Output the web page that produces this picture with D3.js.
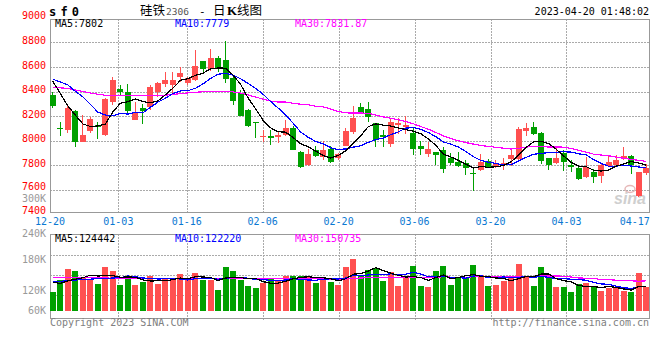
<!DOCTYPE html>
<html><head><meta charset="utf-8">
<script src="https://cdn.jsdelivr.net/npm/d3@7"></script>
<style>
html,body{margin:0;padding:0;background:#fff;}
svg{display:block;}
text{font-family:"DejaVu Sans Mono",monospace;font-size:10px;}
</style></head><body>
<svg id="c" width="660" height="360"></svg>
<script>
// ---------- data ----------
const dates = ["12-20","12-21","12-22","12-23","12-26","12-27","12-28","12-29","12-30",
 "01-03","01-04","01-05","01-06","01-09","01-10","01-11","01-12","01-13","01-16","01-17","01-18","01-19","01-20","01-30","01-31",
 "02-01","02-02","02-03","02-06","02-07","02-08","02-09","02-10","02-13","02-14","02-15","02-16","02-17","02-20","02-21","02-22","02-23","02-24","02-27","02-28",
 "03-01","03-02","03-03","03-06","03-07","03-08","03-09","03-10","03-13","03-14","03-15","03-16","03-17","03-20","03-21","03-22","03-23","03-24","03-27","03-28","03-29","03-30","03-31",
 "04-03","04-04","04-06","04-07","04-10","04-11","04-12","04-13","04-14","04-17","04-18","04-19"];
const openP = [8368,8105,8089,8243,7994,8076,8127,8048,8311,8424,8400,8170,8265,8273,8400,8462,8454,8522,8473,8495,
 8649,8581,8670,8657,8514,8386,8251,8154,8030,8035,8030,8046,8100,7905,7800,7927,7867,7935,7857,7959,
 8068,8276,8257,8141,8046,7973,8127,8114,8065,7957,7889,7911,7924,7862,7830,7822,7741,7762,7838,7795,
 7803,7849,7849,8081,8114,8065,7857,7816,7897,7803,7776,7703,7749,7714,7795,7803,7851,7876,7551,7741];
const highP = [8400,8154,8300,8246,8211,8192,8154,8349,8522,8454,8462,8311,8300,8454,8481,8562,8562,8600,8522,8738,
 8652,8743,8689,8811,8535,8413,8259,8154,8089,8089,8076,8170,8116,7913,7935,7959,8000,7959,7900,8100,
 8281,8303,8316,8146,8086,8189,8181,8200,8114,8000,7986,7911,7951,7903,7911,7843,7789,7889,7849,7843,
 7857,7924,8108,8141,8149,8073,7857,7938,7924,7843,7795,7865,7768,7811,7884,7884,7946,7884,7749,7811];
const lowP = [8265,8040,8062,7949,7986,8062,8013,8040,8292,8368,8219,8165,8138,8251,8359,8440,8386,8481,8454,8489,
 8549,8570,8562,8468,8292,8203,8111,8019,7986,7967,7981,8040,7921,7778,7792,7867,7846,7819,7846,7954,
 8059,8216,8149,7951,7951,7946,8059,8059,7884,7884,7870,7803,7741,7803,7784,7722,7595,7757,7784,7776,
 7762,7795,7843,8038,8046,7811,7762,7811,7757,7749,7681,7697,7659,7659,7784,7795,7843,7730,7546,7722];
const closeP = [8284,8092,8268,7994,8048,8178,8111,8343,8495,8400,8238,8224,8238,8440,8473,8495,8495,8554,8508,8608,
 8581,8670,8589,8503,8327,8205,8116,8143,8040,8019,8046,8100,7927,7786,7894,7873,7921,7824,7894,8076,
 8186,8222,8195,8005,8027,8149,8146,8130,7932,7932,7932,7884,7770,7822,7795,7776,7730,7830,7789,7822,
 7822,7884,8092,8105,8054,7838,7803,7862,7830,7789,7686,7789,7703,7803,7830,7843,7876,7803,7743,7776];
const ma5 = [8484,8386,8284,8208,8137,8116,8120,8135,8235,8305,8317,8340,8319,8308,8323,8374,8428,8491,8505,8532,
 8549,8584,8591,8590,8534,8459,8348,8259,8166,8105,8073,8070,8026,7976,7951,7916,7880,7860,7881,7918,
 7980,8040,8115,8137,8127,8120,8104,8091,8077,8058,8014,7962,7890,7868,7841,7809,7779,7791,7784,7789,
 7799,7829,7882,7945,7991,7995,7978,7932,7877,7824,7794,7791,7759,7754,7762,7794,7811,7831,7819,7802];
const ma10 = [8500,8478,8454,8402,8358,8297,8233,8209,8203,8221,8217,8230,8227,8272,8314,8346,8384,8405,8407,8427,
 8462,8506,8541,8548,8533,8504,8466,8425,8378,8319,8266,8209,8143,8071,8028,7994,7975,7943,7928,7934,
 7948,7960,7987,8009,8022,8050,8072,8103,8107,8092,8067,8033,7991,7972,7949,7912,7870,7840,7826,7815,
 7804,7804,7836,7865,7890,7897,7904,7907,7911,7908,7894,7885,7846,7816,7793,7794,7801,7795,7787,7779];
const ma30 = [8430,8430,8425,8412,8400,8388,8378,8370,8366,8365,8366,8368,8368,8368,8369,8371,8376,8383,8389,8394,
 8398,8401,8403,8402,8397,8388,8372,8355,8338,8323,8315,8315,8304,8297,8292,8281,8275,8258,8238,8227,
 8225,8225,8224,8209,8194,8183,8171,8157,8138,8115,8094,8067,8040,8017,8000,7985,7973,7962,7954,7947,
 7940,7933,7938,7949,7954,7953,7949,7950,7948,7938,7922,7907,7891,7884,7878,7867,7858,7848,7841,7831.87];
const volume = [97000,155000,212000,200000,168000,159000,135000,220000,200000,130000,166000,130000,146000,177000,135000,166000,162000,185000,155000,192000,
 155000,155000,105000,220000,200000,155000,125000,117000,139000,160000,155000,175000,175000,175000,175000,142000,166000,143000,130000,220000,
 261000,180000,205000,215000,150000,195000,125000,163000,227000,125000,122000,200000,225000,130000,163000,163000,230000,180000,125000,130000,
 150000,172000,235000,172000,125000,220000,172000,122000,122000,95000,133000,139000,122000,102000,113000,113000,102000,95000,192000,122000];
const vma5 = [143000,138000,150000,159000,166000,179000,175000,177000,177000,169000,170000,169000,155000,150000,151000,151000,157000,165000,161000,172000,
 170000,168000,152000,165000,167000,167000,162000,163000,147000,139000,139000,149000,161000,168000,171000,168000,166000,161000,151000,161000,
 184000,187000,200000,217000,202000,189000,178000,170000,172000,167000,153000,167000,180000,161000,168000,177000,182000,173000,172000,165000,
 163000,151000,162000,172000,171000,185000,185000,162000,152000,146000,128000,122000,122000,118000,122000,118000,110000,105000,123000,124442];
const vma10 = [146000,148000,152000,155000,157000,159000,162000,163000,165000,167000,175000,172000,165000,163000,160000,161000,163000,160000,155000,162000,
 161000,162000,159000,163000,169000,168000,164000,158000,157000,153000,153000,155000,162000,158000,155000,154000,158000,161000,160000,165000,
 177000,177000,180000,183000,181000,186000,182000,184000,194000,184000,171000,173000,175000,166000,167000,164000,175000,177000,166000,167000,
 170000,167000,168000,172000,168000,174000,168000,162000,162000,159000,157000,154000,143000,135000,134000,124000,116000,113000,121000,122220];
const vma30 = [168000,168000,167000,167000,166000,166000,165000,165000,164000,164000,163000,163000,162000,162000,162000,161000,161000,161000,161000,161000,
 161000,161000,161000,161000,161000,161000,161000,161000,161000,161000,162000,163000,162000,162000,162000,161000,162000,160000,157000,160000,
 163000,165000,167000,168000,168000,169000,168000,167000,170000,168000,166000,168000,172000,169000,168000,168000,172000,174000,173000,172000,
 172000,172000,174000,174000,172000,175000,175000,175000,174000,170000,165000,164000,162000,158000,157000,154000,153000,151000,149000,150735];
const priceTicks = [9000,8800,8600,8400,8200,8000,7800,7600,7400];
const priceGrid = [8800,8600,8400,8200,8000,7800,7600];
const volTicks = [300000,240000,180000,120000,60000];
const volTickLabels = ["300K","240K","180K","120K","60K"];
const dateTicks = ["12-20","01-03","01-16","02-06","02-20","03-06","03-20","04-03","04-17"];
const symbol = "sf0";
const titleParts = ["硅铁","2306","-","日","K","线图"];
const stamp = "2023-04-20 01:48:02";
const maLegend = ["MA5:7802","MA10:7779","MA30:7831.87"];
const volLegend = ["MA5:124442","MA10:122220","MA30:150735"];
const lineColors = ["#000000","#0000ff","#ff00ff"];

// ---------- layout ----------
const svg = d3.select("#c");
const L = 50, R = 649.5, mT = 19, mB = 212, vT = 234, vB = 318;
const up = "#ff5050", down = "#00a000", gridC = "#aaaaaa", frameC = "#999999";

const x = d3.scaleBand().domain(dates).range([49, 650]);
const cx = d => x(d) + x.bandwidth() / 2;
const xl = d3.scaleLinear().domain([0, dates.length - 1]).range([50, 650]);   // label / grid scale
const y = d3.scaleLinear().domain([7400, 9000]).range([214.6, 17.7]);
const yv = d3.scaleLinear().domain([0, 385000]).range([311, 234]);
const yvLabel = d3.scaleLinear().domain([60000,120000,180000,240000,300000]).range([314.3,294.3,263.3,237.2,202.0]);
const priceLabelDy = d => d === 7400 ? -0.9 : d === 7600 ? 0.3 : 1.7;

svg.append("defs").call(d => {
  d.append("clipPath").attr("id","cm").append("rect").attr("x",L).attr("y",mT).attr("width",R-L).attr("height",mB-mT);
  d.append("clipPath").attr("id","cv").append("rect").attr("x",L).attr("y",vT).attr("width",R-L).attr("height",vB-vT);
});

// grids
const g = svg.append("g").attr("shape-rendering","crispEdges");
g.selectAll(".hg").data(priceGrid).join("line")
  .attr("x1",L).attr("x2",R).attr("y1",d=>Math.round(y(d))+0.5).attr("y2",d=>Math.round(y(d))+0.5)
  .attr("stroke",gridC).attr("stroke-dasharray","2,1");
const vgrid = [255.5,275.5,295.5];
g.selectAll(".hv").data(vgrid).join("line")
  .attr("x1",L).attr("x2",R).attr("y1",d=>d).attr("y2",d=>d)
  .attr("stroke",gridC).attr("stroke-dasharray","2,1");
const vlines = dateTicks.slice(1, -1);
vlines.forEach(t => {
  const xx = Math.round(xl(dates.indexOf(t))) + 0.5;
  g.append("line").attr("x1",xx).attr("x2",xx).attr("y1",mT).attr("y2",mB).attr("stroke",gridC).attr("stroke-dasharray","2,1");
  g.append("line").attr("x1",xx).attr("x2",xx).attr("y1",vT).attr("y2",vB+3).attr("stroke",gridC).attr("stroke-dasharray","2,1");
});

// frames
[[mT,mB],[vT,vB]].forEach(([t,b]) => {
  g.append("rect").attr("x",L+0.5).attr("y",t+0.5).attr("width",R-L-1).attr("height",b-t)
    .attr("fill","none").attr("stroke",frameC);
});

// watermark
const wm = svg.append("g");
wm.append("ellipse").attr("cx",630).attr("cy",189).attr("rx",5).attr("ry",3.5).attr("fill","none").attr("stroke","#e6b8b8").attr("stroke-width",1.5);
wm.append("text").attr("x",646).attr("y",204).attr("text-anchor","end")
  .style("font-family","'Liberation Sans',Arial,sans-serif").style("font-size","16px").style("font-weight","bold").style("font-style","italic")
  .attr("fill","#cfcfcf").text("sina");

// candles
const idx = d3.range(dates.length);
const cg = svg.append("g").attr("clip-path","url(#cm)").attr("shape-rendering","crispEdges");
cg.selectAll(".wick").data(idx).join("line")
  .attr("x1",i=>Math.floor(cx(dates[i]))+0.5).attr("x2",i=>Math.floor(cx(dates[i]))+0.5)
  .attr("y1",i=>y(highP[i])).attr("y2",i=>y(lowP[i]))
  .attr("stroke",i=>closeP[i]>=openP[i]?up:down);
cg.selectAll(".body").data(idx).join("rect")
  .attr("x",i=>Math.round(cx(dates[i])-3)).attr("width",6)
  .attr("y",i=>y(Math.max(openP[i],closeP[i])))
  .attr("height",i=>Math.max(1.5, Math.abs(y(openP[i])-y(closeP[i]))))
  .attr("fill",i=>closeP[i]>=openP[i]?up:down);

// MA lines main
const lineM = d3.line().x((d,i)=>cx(dates[i])).y(d=>y(d));
const lg = svg.append("g").attr("clip-path","url(#cm)");
[ma30, ma10, ma5].forEach((arr,k) => {
  lg.append("path").attr("d",lineM(arr)).attr("fill","none")
    .attr("stroke",lineColors[2-k]).attr("stroke-width",1.2).attr("shape-rendering","crispEdges");
});

// volume bars
const vg = svg.append("g").attr("clip-path","url(#cv)").attr("shape-rendering","crispEdges");
vg.selectAll(".vb").data(idx).join("rect")
  .attr("x",i=>Math.round(cx(dates[i])-3)).attr("width",6)
  .attr("y",i=>yv(volume[i])).attr("height",i=>yv(0)-yv(volume[i]))
  .attr("fill",i=>closeP[i]>=openP[i]?up:down);
const lineV = d3.line().x((d,i)=>cx(dates[i])).y(d=>yv(d));
const vlg = svg.append("g").attr("clip-path","url(#cv)");
[vma30, vma10, vma5].forEach((arr,k) => {
  vlg.append("path").attr("d",lineV(arr)).attr("fill","none")
    .attr("stroke",lineColors[2-k]).attr("stroke-width",1.2).attr("shape-rendering","crispEdges");
});

// price labels
svg.selectAll(".pl").data(priceTicks).join("text")
  .attr("x",46).attr("y",d=>y(d)+priceLabelDy(d)).attr("text-anchor","end").attr("fill","#ff0000").text(d=>d);
// volume labels
svg.selectAll(".vl").data(volTicks).join("text")
  .attr("x",46).attr("y",d=>yvLabel(d)).attr("text-anchor","end").attr("fill","#999999")
  .text((d,i)=>volTickLabels[i]);
// date labels
svg.selectAll(".dl").data(dateTicks).join("text")
  .attr("x",d=>xl(dates.indexOf(d))).attr("y",225.4).attr("text-anchor","middle").attr("fill","#0a78d2").text(d=>d);

// legends
const legX = [55,175,295];
maLegend.forEach((t,i)=> svg.append("text").attr("x",legX[i]).attr("y",26.7).attr("fill",lineColors[i]).text(t));
volLegend.forEach((t,i)=> svg.append("text").attr("x",legX[i]).attr("y",241.7).attr("fill",lineColors[i]).text(t));

// header
svg.append("text").attr("x",49).attr("y",16).style("font-size","12px").style("font-weight","bold")
  .style("letter-spacing","4.2px").attr("fill","#000").text(symbol);
const tx = [140,166,199,213,227,237];
const cjk = "'Noto Sans CJK SC',sans-serif";
titleParts.forEach((t,i)=>{
  const el = svg.append("text").attr("x",tx[i]).attr("y",15).attr("fill", i===1? "#555" : "#000").text(t);
  if (i===1) el.style("font-size","9.5px");
  else if (i===4) el.style("font-family","'Liberation Serif',serif").style("font-weight","bold").style("font-size","13px");
  else if (i===2) el.style("font-size","11px");
  else el.style("font-family",cjk).style("font-size","12.5px");
});
svg.append("text").attr("x",649).attr("y",15).attr("text-anchor","end").attr("fill","#000").text(stamp);

// footer
svg.append("text").attr("x",50).attr("y",326).attr("fill","#808080").text("Copyright 2023 SINA.COM");
svg.append("text").attr("x",649).attr("y",326).attr("text-anchor","end").attr("fill","#808080").text("http://finance.sina.com.cn");
</script>
</body></html>
